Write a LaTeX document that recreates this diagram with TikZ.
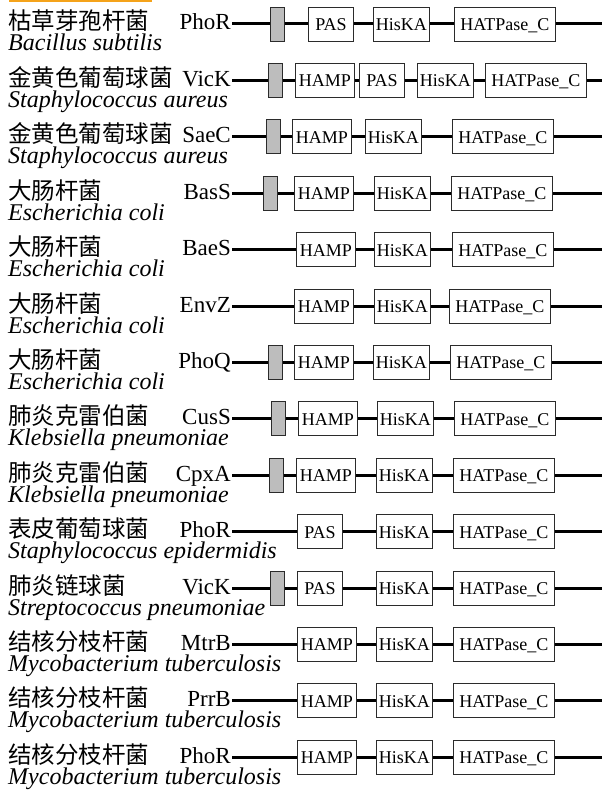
\documentclass[tikz,border=0pt]{standalone}
\usepackage{fontspec}
\setmainfont{Liberation Serif}
\newfontfamily\cjk{Noto Sans CJK SC}
\usetikzlibrary{positioning}
\definecolor{bar}{HTML}{F5A31A}
\definecolor{tmgrey}{HTML}{BDBDBD}
\definecolor{edge}{HTML}{2B2B2B}

\begin{document}
\begin{tikzpicture}[x=1bp, y=-1bp,
      cn/.style={anchor=base west, inner sep=0pt, font=\cjk\fontsize{23.5bp}{26bp}\selectfont},
      sp/.style={anchor=base west, inner sep=0pt, font=\fontsize{24bp}{27bp}\selectfont\itshape},
      gene/.style={anchor=east, inner xsep=1bp, inner ysep=0pt, text height=12bp, text depth=0pt,
                   font=\fontsize{23bp}{26bp}\selectfont},
      dom/.style={draw=edge, line width=0.9bp, fill=white, anchor=west, minimum height=34bp, inner sep=0pt,
                  text height=13bp, text depth=0pt, font=\fontsize{18bp}{20bp}\selectfont},
      tm/.style={draw=edge, line width=0.9bp, fill=tmgrey, anchor=west, minimum width=14bp, minimum height=34bp, inner sep=0pt},
      hamp/.style={dom, minimum width=59bp}, pas/.style={dom, minimum width=45bp},
      hk/.style={dom, minimum width=56bp}, hat/.style={dom, minimum width=101bp},
      ln/.style={line width=3bp}]
    \useasboundingbox (0,0) rectangle (602,792);
    \fill[bar] (9,0) rectangle (152,2.5);
    % Bacillus subtilis PhoR
    \node[cn] (cn1) at (8,30) {枯草芽孢杆菌};
    \node[sp] (sp1) at (8,50.5) {Bacillus subtilis};
    \node[gene] (g1) at (232,24) {PhoR};
    \node[tm] (tm1) at (270,24) {};
    \node[pas] (pas1) at (308,24) {PAS};
    \node[hk] (hk1) at (373,24) {HisKA};
    \node[hat] (hat1) at (454,24) {HATPase\_C};
    \coordinate (e1) at (602,24);
    \foreach \a/\b in {g1/tm1,tm1/pas1,pas1/hk1,hk1/hat1,hat1/e1} \draw[ln] (\a) -- (\b);
    % Staphylococcus aureus VicK
    \node[cn] (cn2) at (8,86.4) {金黄色葡萄球菌};
    \node[sp] (sp2) at (8,107.4) {Staphylococcus aureus};
    \node[gene] (g2) at (232,80.4) {VicK};
    \node[tm] (tm2) at (268,80.4) {};
    \node[hamp] (hamp2) at (295,80.4) {HAMP};
    \node[pas] (pas2) at (359,80.4) {PAS};
    \node[hk] (hk2) at (417,80.4) {HisKA};
    \node[hat] (hat2) at (485,80.4) {HATPase\_C};
    \coordinate (e2) at (602,80.4);
    \foreach \a/\b in {g2/tm2,tm2/hamp2,hamp2/pas2,pas2/hk2,hk2/hat2,hat2/e2} \draw[ln] (\a) -- (\b);
    % Staphylococcus aureus SaeC
    \node[cn] (cn3) at (8,142.8) {金黄色葡萄球菌};
    \node[sp] (sp3) at (8,163.8) {Staphylococcus aureus};
    \node[gene] (g3) at (232,136.8) {SaeC};
    \node[tm] (tm3) at (266,136.8) {};
    \node[hamp] (hamp3) at (292,136.8) {HAMP};
    \node[hk] (hk3) at (365,136.8) {HisKA};
    \node[hat] (hat3) at (452,136.8) {HATPase\_C};
    \coordinate (e3) at (602,136.8);
    \foreach \a/\b in {g3/tm3,tm3/hamp3,hamp3/hk3,hk3/hat3,hat3/e3} \draw[ln] (\a) -- (\b);
    % Escherichia coli BasS
    \node[cn] (cn4) at (8,199.2) {大肠杆菌};
    \node[sp] (sp4) at (8,220.2) {Escherichia coli};
    \node[gene] (g4) at (232,193.2) {BasS};
    \node[tm] (tm4) at (263,193.2) {};
    \node[hamp] (hamp4) at (294,193.2) {HAMP};
    \node[hk] (hk4) at (374,193.2) {HisKA};
    \node[hat] (hat4) at (451,193.2) {HATPase\_C};
    \coordinate (e4) at (602,193.2);
    \foreach \a/\b in {g4/tm4,tm4/hamp4,hamp4/hk4,hk4/hat4,hat4/e4} \draw[ln] (\a) -- (\b);
    % Escherichia coli BaeS
    \node[cn] (cn5) at (8,255.6) {大肠杆菌};
    \node[sp] (sp5) at (8,276.6) {Escherichia coli};
    \node[gene] (g5) at (232,249.6) {BaeS};
    \node[hamp] (hamp5) at (296,249.6) {HAMP};
    \node[hk] (hk5) at (374,249.6) {HisKA};
    \node[hat] (hat5) at (452,249.6) {HATPase\_C};
    \coordinate (e5) at (602,249.6);
    \foreach \a/\b in {g5/hamp5,hamp5/hk5,hk5/hat5,hat5/e5} \draw[ln] (\a) -- (\b);
    % Escherichia coli EnvZ
    \node[cn] (cn6) at (8,312) {大肠杆菌};
    \node[sp] (sp6) at (8,333) {Escherichia coli};
    \node[gene] (g6) at (232,306) {EnvZ};
    \node[hamp] (hamp6) at (294,306) {HAMP};
    \node[hk] (hk6) at (374,306) {HisKA};
    \node[hat] (hat6) at (449,306) {HATPase\_C};
    \coordinate (e6) at (602,306);
    \foreach \a/\b in {g6/hamp6,hamp6/hk6,hk6/hat6,hat6/e6} \draw[ln] (\a) -- (\b);
    % Escherichia coli PhoQ
    \node[cn] (cn7) at (8,368.4) {大肠杆菌};
    \node[sp] (sp7) at (8,389.4) {Escherichia coli};
    \node[gene] (g7) at (232,362.4) {PhoQ};
    \node[tm] (tm7) at (268,362.4) {};
    \node[hamp] (hamp7) at (294,362.4) {HAMP};
    \node[hk] (hk7) at (373,362.4) {HisKA};
    \node[hat] (hat7) at (450,362.4) {HATPase\_C};
    \coordinate (e7) at (602,362.4);
    \foreach \a/\b in {g7/tm7,tm7/hamp7,hamp7/hk7,hk7/hat7,hat7/e7} \draw[ln] (\a) -- (\b);
    % Klebsiella pneumoniae CusS
    \node[cn] (cn8) at (8,424.8) {肺炎克雷伯菌};
    \node[sp] (sp8) at (8,445.8) {Klebsiella pneumoniae};
    \node[gene] (g8) at (232,418.8) {CusS};
    \node[tm] (tm8) at (271,418.8) {};
    \node[hamp] (hamp8) at (298,418.8) {HAMP};
    \node[hk] (hk8) at (377,418.8) {HisKA};
    \node[hat] (hat8) at (454,418.8) {HATPase\_C};
    \coordinate (e8) at (602,418.8);
    \foreach \a/\b in {g8/tm8,tm8/hamp8,hamp8/hk8,hk8/hat8,hat8/e8} \draw[ln] (\a) -- (\b);
    % Klebsiella pneumoniae CpxA
    \node[cn] (cn9) at (8,481.2) {肺炎克雷伯菌};
    \node[sp] (sp9) at (8,502.2) {Klebsiella pneumoniae};
    \node[gene] (g9) at (232,475.2) {CpxA};
    \node[tm] (tm9) at (269,475.2) {};
    \node[hamp] (hamp9) at (296,475.2) {HAMP};
    \node[hk] (hk9) at (376,475.2) {HisKA};
    \node[hat] (hat9) at (453,475.2) {HATPase\_C};
    \coordinate (e9) at (602,475.2);
    \foreach \a/\b in {g9/tm9,tm9/hamp9,hamp9/hk9,hk9/hat9,hat9/e9} \draw[ln] (\a) -- (\b);
    % Staphylococcus epidermidis PhoR
    \node[cn] (cn10) at (8,537.6) {表皮葡萄球菌};
    \node[sp] (sp10) at (8,558.6) {Staphylococcus epidermidis};
    \node[gene] (g10) at (232,531.6) {PhoR};
    \node[pas] (pas10) at (297,531.6) {PAS};
    \node[hk] (hk10) at (376,531.6) {HisKA};
    \node[hat] (hat10) at (453,531.6) {HATPase\_C};
    \coordinate (e10) at (602,531.6);
    \foreach \a/\b in {g10/pas10,pas10/hk10,hk10/hat10,hat10/e10} \draw[ln] (\a) -- (\b);
    % Streptococcus pneumoniae VicK
    \node[cn] (cn11) at (8,594) {肺炎链球菌};
    \node[sp] (sp11) at (8,615) {Streptococcus pneumoniae};
    \node[gene] (g11) at (232,588) {VicK};
    \node[tm] (tm11) at (270,588) {};
    \node[pas] (pas11) at (297,588) {PAS};
    \node[hk] (hk11) at (376,588) {HisKA};
    \node[hat] (hat11) at (453,588) {HATPase\_C};
    \coordinate (e11) at (602,588);
    \foreach \a/\b in {g11/tm11,tm11/pas11,pas11/hk11,hk11/hat11,hat11/e11} \draw[ln] (\a) -- (\b);
    % Mycobacterium tuberculosis MtrB, PrrB, PhoR
    \node[cn] (cn12) at (8,650.4) {结核分枝杆菌};
    \node[sp] (sp12) at (8,671.4) {Mycobacterium tuberculosis};
    \node[gene] (g12) at (232,644.4) {MtrB};
    \node[hamp] (hamp12) at (297,644.4) {HAMP};
    \node[hk] (hk12) at (376,644.4) {HisKA};
    \node[hat] (hat12) at (453,644.4) {HATPase\_C};
    \coordinate (e12) at (602,644.4);
    \foreach \a/\b in {g12/hamp12,hamp12/hk12,hk12/hat12,hat12/e12} \draw[ln] (\a) -- (\b);
    \node[cn] (cn13) at (8,706.8) {结核分枝杆菌};
    \node[sp] (sp13) at (8,727.8) {Mycobacterium tuberculosis};
    \node[gene] (g13) at (232,700.8) {PrrB};
    \node[hamp] (hamp13) at (297,700.8) {HAMP};
    \node[hk] (hk13) at (376,700.8) {HisKA};
    \node[hat] (hat13) at (453,700.8) {HATPase\_C};
    \coordinate (e13) at (602,700.8);
    \foreach \a/\b in {g13/hamp13,hamp13/hk13,hk13/hat13,hat13/e13} \draw[ln] (\a) -- (\b);
    \node[cn] (cn14) at (8,763.2) {结核分枝杆菌};
    \node[sp] (sp14) at (8,784.2) {Mycobacterium tuberculosis};
    \node[gene] (g14) at (232,757.2) {PhoR};
    \node[hamp] (hamp14) at (297,757.2) {HAMP};
    \node[hk] (hk14) at (376,757.2) {HisKA};
    \node[hat] (hat14) at (453,757.2) {HATPase\_C};
    \coordinate (e14) at (602,757.2);
    \foreach \a/\b in {g14/hamp14,hamp14/hk14,hk14/hat14,hat14/e14} \draw[ln] (\a) -- (\b);
  \end{tikzpicture}
\end{document}
